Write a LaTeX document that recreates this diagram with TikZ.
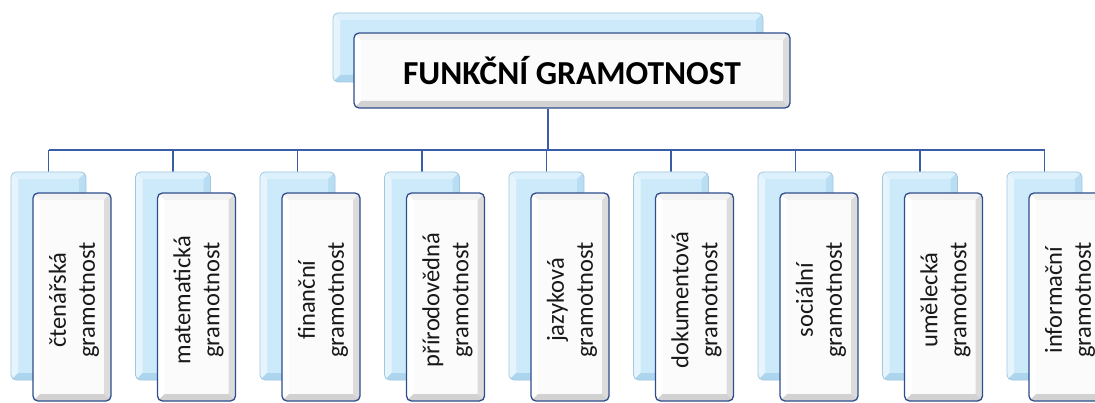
\documentclass[tikz,border=0pt]{standalone}
\usepackage{fontspec}
\setmainfont{Carlito}
\usetikzlibrary{calc}

\definecolor{linkblue}{HTML}{3A5DA8}
\definecolor{frontrim}{HTML}{2E4D8C}
\definecolor{backrim}{HTML}{A3C7DE}
\definecolor{backface}{HTML}{CDEAFA}
\definecolor{backtop}{HTML}{DDF1FC}
\definecolor{backleft}{HTML}{E6F5FD}
\definecolor{backright}{HTML}{B9DEF3}
\definecolor{backbottom}{HTML}{ADD6EE}
\definecolor{frontface}{HTML}{FBFBFB}
\definecolor{fronttop}{HTML}{F2F2F2}
\definecolor{frontleft}{HTML}{FFFFFF}
\definecolor{frontright}{HTML}{DCDCDC}
\definecolor{frontbottom}{HTML}{D2D2D2}

% bevelled frame inside a node: top, left, right, bottom colours, frame width
\newcommand\bevelframe[5]{%
  \coordinate (bv-sw) at (path picture bounding box.south west);
  \coordinate (bv-ne) at (path picture bounding box.north east);
  \coordinate (bv-nw) at (bv-sw |- bv-ne);
  \coordinate (bv-se) at (bv-ne |- bv-sw);
  \fill[#1, sharp corners] (bv-nw) -- (bv-ne) -- ($(bv-ne)+(-#5,-#5)$) -- ($(bv-nw)+(#5,-#5)$) -- cycle;
  \fill[#2, sharp corners] (bv-nw) -- ($(bv-nw)+(#5,-#5)$) -- ($(bv-sw)+(#5,#5)$) -- (bv-sw) -- cycle;
  \fill[#3, sharp corners] (bv-ne) -- (bv-se) -- ($(bv-se)+(-#5,#5)$) -- ($(bv-ne)+(-#5,-#5)$) -- cycle;
  \fill[#4, sharp corners] (bv-sw) -- (bv-se) -- ($(bv-se)+(-#5,#5)$) -- ($(bv-sw)+(#5,#5)$) -- cycle;
}

\tikzset{
  backbox/.style={rectangle, rounded corners=5pt, draw=backrim, line width=0.8pt,
    fill=backface, inner sep=0pt,
    path picture={\bevelframe{backtop}{backleft}{backright}{backbottom}{7pt}}},
  frontbox/.style={rectangle, rounded corners=5pt, draw=frontrim, line width=1.3pt,
    fill=frontface, inner sep=0pt,
    path picture={\bevelframe{fronttop}{frontleft}{frontright}{frontbottom}{7pt}}},
  colbox/.style={minimum width=75pt, minimum height=208pt},
  colfront/.style={minimum width=78pt, minimum height=208pt},
  coltext/.style={rotate=90, align=center, font=\fontsize{24.5}{29}\selectfont, text=black!90},
  link/.style={draw=linkblue, line width=1.4pt},
}

\begin{document}
\begin{tikzpicture}[x=1pt, y=-1pt]
  \clip (0,0) rectangle (1095,403);
  \useasboundingbox (0,0) rectangle (1095,403);

  % root
  \node[backbox, minimum width=430pt, minimum height=69pt] (topback) at (548,47.5) {};
  \coordinate (hub) at (548,150);

  % columns
  \foreach \i/\lbl [evaluate=\i as \x using {48.5+124.5*(\i-1)}] in {
      1/čtenářská\\gramotnost,
      2/matematická\\gramotnost,
      3/finanční\\gramotnost,
      4/přírodovědná\\gramotnost,
      5/jazyková\\gramotnost,
      6/dokumentová\\gramotnost,
      7/sociální\\gramotnost,
      8/umělecká\\gramotnost,
      9/informační\\gramotnost} {
    \draw[link] (\x,172) coordinate (drop\i) -- (drop\i |- hub);
    \node[backbox, colbox] (b\i) at (\x,276) {};
    \node[frontbox, colfront] (f\i) at ($(b\i.center)+(23.5pt,-21pt)$) {};
    \node[coltext] (t\i) at ($(f\i.center)+(2pt,-3pt)$) {\lbl};
  }

  % connectors
  \draw[link] (b1.north |- hub) -- (b9.north |- hub);

  \node[frontbox, minimum width=436pt, minimum height=75pt] (topfront) at (572,70.5)
    {\fontsize{33.5}{40}\selectfont\bfseries FUNKČNÍ GRAMOTNOST};
  \draw[link] (topback |- topfront.south) -- (hub);
\end{tikzpicture}
\end{document}
